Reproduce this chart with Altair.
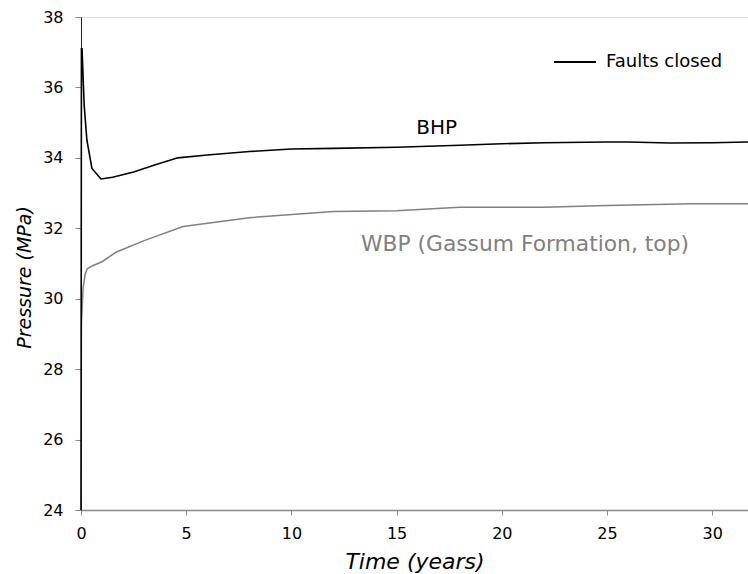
import altair as alt
import pandas as pd

# Data
bhp_t = [0, 0.02, 0.05, 0.15, 0.28, 0.52, 0.95, 1.5, 2.5, 3.5, 4.6, 6, 8, 10, 12, 15, 18, 20, 22, 25, 26, 28, 30, 31.7]
bhp_p = [24.0, 37.1, 37.1, 35.5, 34.5, 33.7, 33.4, 33.45, 33.6, 33.8, 34.0, 34.08, 34.18, 34.25, 34.27, 34.3, 34.36, 34.4, 34.43, 34.45, 34.45, 34.42, 34.43, 34.45]

wbp_t = [0, 0.02, 0.1, 0.2, 0.3, 0.52, 1.0, 1.66, 3, 4.85, 8, 12, 15, 18, 22, 25, 29, 31.7]
wbp_p = [24.0, 29.3, 30.3, 30.7, 30.85, 30.93, 31.05, 31.32, 31.65, 32.05, 32.3, 32.48, 32.5, 32.6, 32.6, 32.65, 32.7, 32.7]

x_ticks = [0, 5, 10, 15, 20, 25, 30]
y_ticks = [24, 26, 28, 30, 32, 34, 36, 38]

label_text = ["BHP", "WBP (Gassum Formation, top)"]
label_t = [16.9, 21.1]
label_p = [34.85, 31.55]
label_color = ["#000000", "#808080"]
label_size = [20, 21.8]

FONT = "DejaVu Sans"

bhp = pd.DataFrame({"t": bhp_t, "p": bhp_p, "series": "Faults closed"})
wbp = pd.DataFrame({"t": wbp_t, "p": wbp_p})
labels = pd.DataFrame({"text": label_text, "t": label_t, "p": label_p,
                       "c": label_color, "s": label_size})

xs = alt.Scale(domain=[0, 31.7], nice=False, zero=False)
ys = alt.Scale(domain=[24, 38], nice=False, zero=False)

xaxis = alt.Axis(values=x_ticks, title="Time (years)", grid=False,
                 labelFont=FONT, labelFontSize=16, labelColor="#000",
                 labelFlush=False,
                 titleFont=FONT, titleFontSize=22, titleFontStyle="italic",
                 titleFontWeight="normal", titleColor="#000", titlePadding=10,
                 domainColor="#888", domainWidth=1.5, tickColor="#888",
                 tickSize=5, labelPadding=10)
yaxis = alt.Axis(values=y_ticks, title="Pressure (MPa)", grid=False,
                 labelFont=FONT, labelFontSize=16, labelColor="#000",
                 labelFlush=False,
                 titleFont=FONT, titleFontSize=19, titleFontStyle="italic",
                 titleFontWeight="normal", titleColor="#000",
                 titleAngle=-90, titleX=-51, titleY=260, titleAlign="center",
                 titleBaseline="alphabetic",
                 domainColor="#222", domainWidth=1, tickColor="#888",
                 tickSize=6, labelPadding=12)

wbp_line = alt.Chart(wbp).mark_line(color="#808080", strokeWidth=1.5, clip=True).encode(
    x=alt.X("t:Q", scale=xs, axis=xaxis),
    y=alt.Y("p:Q", scale=ys, axis=yaxis),
)

bhp_line = alt.Chart(bhp).mark_line(strokeWidth=1.6).encode(
    x=alt.X("t:Q", scale=xs),
    y=alt.Y("p:Q", scale=ys),
    color=alt.Color("series:N",
                    scale=alt.Scale(domain=["Faults closed"], range=["#000000"]),
                    legend=alt.Legend(title=None, orient="none", legendX=472, legendY=23,
                                      symbolType="stroke", symbolSize=1764,
                                      symbolStrokeWidth=2, labelFont=FONT,
                                      labelFontSize=18, labelColor="#000",
                                      labelOffset=9, padding=0)),
)

text = alt.Chart(labels).mark_text(font=FONT, align="center",
                                   baseline="middle").encode(
    x=alt.X("t:Q", scale=xs),
    y=alt.Y("p:Q", scale=ys),
    text="text:N",
    color=alt.Color("c:N", scale=None),
    size=alt.Size("s:Q", scale=None),
)

chart = alt.layer(wbp_line, bhp_line, text).properties(
    width=667, height=493,
    padding={"left": 81, "top": 17, "right": 0, "bottom": 64},
    autosize=alt.AutoSizeParams(type="none"),
).configure_view(stroke="#888", strokeWidth=1.5).configure(background="white")

chart.save("out.html", embed_options={"renderer": "svg", "actions": False})
